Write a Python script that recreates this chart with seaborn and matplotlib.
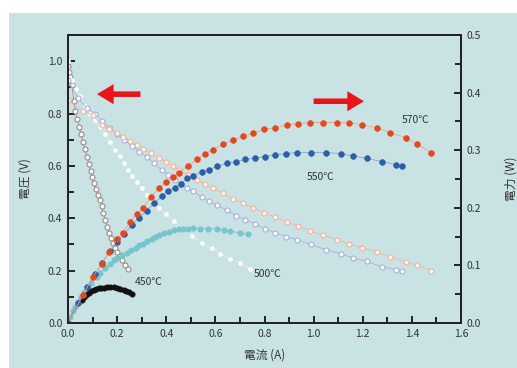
import matplotlib
matplotlib.use("Agg")
import matplotlib.pyplot as plt
import seaborn as sns
from matplotlib.patches import Rectangle
from matplotlib.ticker import MultipleLocator

# ---- data ----
# 570C
I570 = [0.0, 0.061, 0.10, 0.138, 0.167, 0.20, 0.224, 0.252, 0.281, 0.305, 0.338, 0.37, 0.40,
        0.427, 0.452, 0.489, 0.525, 0.558, 0.59, 0.631, 0.672, 0.712, 0.753, 0.798, 0.843,
        0.892, 0.936, 0.985, 1.038, 1.095, 1.144, 1.197, 1.258, 1.311, 1.376, 1.42, 1.478]
V570 = [0.85, 0.81, 0.795, 0.755, 0.74, 0.725, 0.71, 0.695, 0.68, 0.665, 0.648, 0.632, 0.615,
        0.60, 0.585, 0.565, 0.545, 0.53, 0.515, 0.495, 0.475, 0.457, 0.44, 0.422, 0.404,
        0.387, 0.37, 0.352, 0.336, 0.318, 0.303, 0.288, 0.27, 0.253, 0.234, 0.22, 0.20]
P570 = [0.0, 0.048, 0.080, 0.102, 0.123, 0.145, 0.157, 0.175, 0.19, 0.20, 0.218, 0.235, 0.244,
        0.253, 0.261, 0.273, 0.284, 0.294, 0.301, 0.31, 0.317, 0.324, 0.330, 0.336, 0.339,
        0.344, 0.346, 0.348, 0.348, 0.348, 0.348, 0.344, 0.339, 0.330, 0.322, 0.311, 0.296]

# 550C
I550 = [0.0, 0.04, 0.077, 0.11, 0.14, 0.17, 0.20, 0.23, 0.26, 0.29, 0.32, 0.35, 0.383, 0.407,
        0.436, 0.46, 0.485, 0.509, 0.546, 0.574, 0.607, 0.647, 0.684, 0.721, 0.761, 0.802,
        0.843, 0.888, 0.932, 0.989, 1.05, 1.11, 1.16, 1.217, 1.278, 1.336, 1.36]
V550 = [0.93, 0.86, 0.82, 0.80, 0.77, 0.745, 0.72, 0.70, 0.675, 0.655, 0.635, 0.61, 0.585, 0.565,
        0.545, 0.53, 0.517, 0.503, 0.48, 0.465, 0.45, 0.43, 0.41, 0.395, 0.378, 0.36,
        0.345, 0.33, 0.318, 0.30, 0.28, 0.265, 0.249, 0.235, 0.215, 0.204, 0.199]
P550 = [0.0, 0.035, 0.062, 0.085, 0.105, 0.125, 0.14, 0.155, 0.17, 0.183, 0.195, 0.208, 0.220, 0.230,
        0.235, 0.242, 0.251, 0.256, 0.263, 0.266, 0.272, 0.277, 0.280, 0.284, 0.286, 0.289,
        0.292, 0.294, 0.296, 0.296, 0.296, 0.294, 0.29, 0.286, 0.28, 0.275, 0.273]

# 500C
I500v = [0.0, 0.016, 0.033, 0.049, 0.07, 0.09, 0.11, 0.13, 0.15, 0.171, 0.19, 0.212, 0.228, 0.244,
         0.262, 0.28, 0.30, 0.32, 0.345, 0.37, 0.40, 0.43, 0.47, 0.505, 0.545, 0.585, 0.62,
         0.66, 0.70, 0.74]
V500 = [1.0, 0.93, 0.895, 0.866, 0.83, 0.80, 0.775, 0.747, 0.72, 0.69, 0.662, 0.636, 0.61, 0.586,
        0.563, 0.54, 0.515, 0.49, 0.465, 0.44, 0.415, 0.39, 0.36, 0.333, 0.305, 0.285, 0.265,
        0.245, 0.228, 0.208]
I500p = [0.0, 0.01, 0.02, 0.03, 0.04, 0.053, 0.065, 0.08, 0.095, 0.118, 0.13, 0.15, 0.17, 0.187,
         0.2, 0.22, 0.24, 0.257, 0.275, 0.29, 0.305, 0.322, 0.34, 0.355, 0.37, 0.391, 0.41,
         0.43, 0.45, 0.468, 0.49, 0.51, 0.537, 0.57, 0.607, 0.635, 0.66, 0.70, 0.733]
P500 = [0.0, 0.011, 0.02, 0.028, 0.036, 0.045, 0.053, 0.062, 0.070, 0.080, 0.086, 0.095, 0.102,
        0.109, 0.113, 0.118, 0.122, 0.126, 0.131, 0.135, 0.138, 0.142, 0.146, 0.149, 0.152,
        0.156, 0.158, 0.161, 0.163, 0.164, 0.164, 0.165, 0.164, 0.164, 0.163, 0.161, 0.159,
        0.157, 0.154]

# 450C
I450v = [0.0, 0.005, 0.01, 0.016, 0.024, 0.03, 0.037, 0.045, 0.053, 0.061, 0.069, 0.077, 0.085,
         0.092, 0.098, 0.106, 0.114, 0.122, 0.13, 0.137, 0.144, 0.151, 0.159, 0.167, 0.175,
         0.183, 0.191, 0.2, 0.21, 0.22, 0.232, 0.244]
V450 = [0.98, 0.96, 0.94, 0.91, 0.847, 0.81, 0.78, 0.75, 0.72, 0.69, 0.663, 0.635, 0.607,
        0.58, 0.559, 0.535, 0.51, 0.49, 0.471, 0.445, 0.42, 0.395, 0.368, 0.345, 0.325,
        0.305, 0.287, 0.27, 0.255, 0.241, 0.222, 0.207]
I450p = [0.0, 0.02, 0.04, 0.055, 0.065, 0.075, 0.085, 0.095, 0.105, 0.115, 0.125, 0.135, 0.147,
         0.16, 0.173, 0.187, 0.2, 0.213, 0.226, 0.238, 0.25, 0.26]
P450 = [0.0, 0.017, 0.032, 0.040, 0.045, 0.049, 0.052, 0.055, 0.057, 0.059, 0.060, 0.0605, 0.0612,
        0.0618, 0.062, 0.062, 0.0612, 0.0595, 0.0575, 0.0555, 0.053, 0.051]

temp_labels = ["450℃", "500℃", "550℃", "570℃"]

# ---- style ----
sns.set_theme(style="ticks")
plt.rcParams["font.family"] = ["Noto Sans CJK JP", "DejaVu Sans"]
BG = "#c9e3e4"
TXT = "#333333"

fig = plt.figure(figsize=(5.17, 3.68), dpi=100, facecolor="white")
fig.patches.append(Rectangle((9 / 517, 0), 1, 1 - 13 / 368, transform=fig.transFigure,
                             facecolor=BG, edgecolor="none", zorder=-10))
ax = fig.add_axes([68 / 517, 1 - 323 / 368, 393 / 517, 288 / 368])
ax.set_facecolor("none")
ax2 = ax.twinx()
ax2.set_facecolor("none")


def curve(axis, x, y, face, edge, ms, mew=0.7, lw=0.6, lc=None, **kw):
    sns.lineplot(x=x, y=y, ax=axis, color=lc or edge, lw=lw, marker="o", markersize=ms,
                 markerfacecolor=face, markeredgecolor=edge, markeredgewidth=mew,
                 errorbar=None, **kw)


# voltage curves (left axis)
curve(ax, I450v, V450, "white", "#9a8c8c", 3.6, mew=0.8)
curve(ax, I500v, V500, "white", "white", 3.0, mew=0.3, lc="#e4f2f2", lw=0.4)
curve(ax, I550, V550, "white", "#a8afdc", 3.6, mew=0.8)
curve(ax, I570, V570, "#fdf3ee", "#f0b59c", 3.6, mew=0.8)

# power curves (right axis)
curve(ax2, I500p, P500, "#74c6cc", "#74c6cc", 3.9, mew=0.4)
curve(ax2, I450p, P450, "#111111", "#111111", 3.9, mew=0.4, markevery=list(range(3, len(I450p))))
curve(ax2, I550, P550, "#2d5ea6", "#2d5ea6", 4.2, mew=0.4, lc="#86a2cc")
curve(ax2, I570, P570, "#e2491e", "#e2491e", 4.2, mew=0.4, lc="#efa088")

# axes limits / ticks
ax.set_xlim(0, 1.6)
ax.set_ylim(0, 1.1)
ax2.set_ylim(0, 0.5)
ax.xaxis.set_major_locator(MultipleLocator(0.2))
ax.xaxis.set_minor_locator(MultipleLocator(0.1))
ax.yaxis.set_major_locator(MultipleLocator(0.2))
ax.yaxis.set_minor_locator(MultipleLocator(0.1))
ax2.yaxis.set_major_locator(MultipleLocator(0.1))
ax2.yaxis.set_minor_locator(MultipleLocator(0.05))
ax.xaxis.set_major_formatter(lambda v, p: f"{v:.1f}")
ax.yaxis.set_major_formatter(lambda v, p: f"{v:.1f}" if v <= 1.0 + 1e-9 else "")
ax2.yaxis.set_major_formatter(lambda v, p: f"{v:.1f}")

for a in (ax, ax2):
    for s in a.spines.values():
        s.set_color("#222222")
        s.set_linewidth(1.3)
    a.tick_params(which="major", direction="in", length=5, width=1.4, color="#222222",
                  labelsize=7.5, labelcolor=TXT, pad=4)
    a.tick_params(which="minor", direction="in", length=4, width=1.4, color="#222222")
ax.tick_params(axis="both", which="both", top=False, right=False)
ax2.tick_params(axis="y", which="both", left=False, right=True)

ax.set_xlabel("電流 (A)", fontsize=8.5, color=TXT)
ax.set_ylabel("電圧 (V)", fontsize=8.5, color=TXT)
ax2.set_ylabel("電力 (W)", fontsize=8.5, color=TXT, rotation=90)
ax.xaxis.set_label_coords(0.5, -0.09)
ax.yaxis.set_label_coords(-0.092, 0.5)
ax2.yaxis.set_label_coords(1.112, 0.5)

# temperature labels
lab_pos = [(0.27, 0.157), (0.757, 0.188), (0.97, 0.559), (1.36, 0.774)]
for t, (xx, yy) in zip(temp_labels, lab_pos):
    ax.text(xx, yy, t, fontsize=7.5, color=TXT, ha="left", va="center")

# red arrows
arrow_kw = dict(arrowstyle="simple,head_width=1.45,head_length=1.2,tail_width=0.4",
                color="#e8161b", mutation_scale=10, shrinkA=0, shrinkB=0, lw=0)
ax.annotate("", xy=(0.118, 0.874), xytext=(0.295, 0.874), arrowprops=arrow_kw)
ax.annotate("", xy=(1.205, 0.847), xytext=(1.0, 0.847), arrowprops=arrow_kw)

fig.savefig("out.png", dpi=100, facecolor="white")
